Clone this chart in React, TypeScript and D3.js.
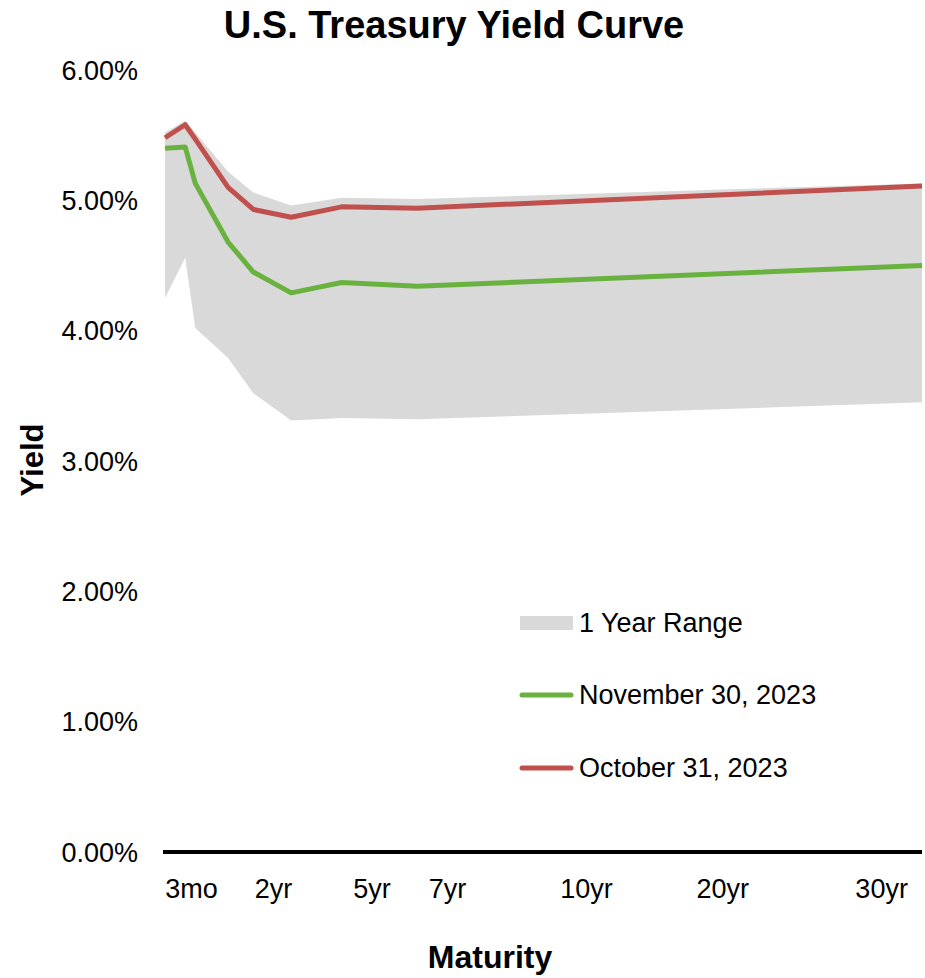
import React from "react";
import * as d3 from "d3";

// Maturity positions along the chart's x axis (axis units, 0..30)
const xPositions = [0, 0.8, 1.2, 2.5, 3.5, 5, 7, 10, 30];
// Yields in percent
const oct31 = [5.48, 5.58, 5.47, 5.1, 4.93, 4.87, 4.95, 4.94, 5.11];
const nov30 = [5.4, 5.41, 5.13, 4.68, 4.45, 4.29, 4.37, 4.34, 4.5];
const rangeHigh = [5.52, 5.61, 5.52, 5.22, 5.06, 4.96, 5.02, 5.01, 5.13];
const rangeLow = [4.25, 4.56, 4.02, 3.79, 3.52, 3.31, 3.33, 3.32, 3.45];

const xTickLabels = ["3mo", "2yr", "5yr", "7yr", "10yr", "20yr", "30yr"];
const xTickPositions = [1.05, 4.3, 8.2, 11.2, 16.7, 22.1, 28.4];
const yTicks = [0, 1, 2, 3, 4, 5, 6];

const legendItems = ["1 Year Range", "November 30, 2023", "October 31, 2023"];

const W = 925;
const H = 978;
const FONT = "Arial, 'Liberation Sans', Helvetica, sans-serif";
const RED = "#C0504D";
const GREEN = "#6AB23F";
const BAND = "#D9D9D9";

export default function App() {
  const x = d3.scaleLinear().domain([0, 30]).range([165, 922]);
  const y = d3.scaleLinear().domain([0, 6]).range([852, 70]);

  const idx = xPositions.map((_, i) => i);
  const area = d3
    .area<number>()
    .x((i) => x(xPositions[i]))
    .y0((i) => y(rangeLow[i]))
    .y1((i) => y(rangeHigh[i]));
  const lineOf = (vals: number[]) =>
    d3
      .line<number>()
      .x((i) => x(xPositions[i]))
      .y((i) => y(vals[i]))(idx) || "";

  const legendY = [623, 695, 768];

  return (
    <svg
      width={W}
      height={H}
      style={{ position: "absolute", left: 0, top: 0, background: "#fff" }}
      fontFamily={FONT}
    >
      <rect width={W} height={H} fill="#fff" />
      <text x={454} y={38} textAnchor="middle" fontWeight="bold" fontSize={38} fill="#000">
        U.S. Treasury Yield Curve
      </text>

      {/* band */}
      <path d={area(idx) || ""} fill={BAND} />

      {/* lines */}
      <path d={lineOf(nov30)} fill="none" stroke={GREEN} strokeWidth={5} strokeLinejoin="round" />
      <path d={lineOf(oct31)} fill="none" stroke={RED} strokeWidth={5} strokeLinejoin="round" />

      {/* axis line */}
      <line x1={163} x2={922} y1={y(0)} y2={y(0)} stroke="#000" strokeWidth={4} />

      {/* y tick labels */}
      {yTicks.map((t) => (
        <text key={t} x={138} y={y(t)} dy="0.36em" textAnchor="end" fontSize={27} fill="#000">
          {t.toFixed(2) + "%"}
        </text>
      ))}

      {/* x tick labels */}
      {xTickLabels.map((l, i) => (
        <text key={l} x={x(xTickPositions[i])} y={898} textAnchor="middle" fontSize={27} fill="#000">
          {l}
        </text>
      ))}

      <text x={490} y={968} textAnchor="middle" fontWeight="bold" fontSize={32} fill="#000">
        Maturity
      </text>
      <text
        transform="translate(43,460) rotate(-90)"
        textAnchor="middle"
        fontWeight="bold"
        fontSize={31}
        fill="#000"
      >
        Yield
      </text>

      {/* legend */}
      <rect x={520} y={legendY[0] - 7} width={53} height={14} fill={BAND} />
      <line x1={522} x2={571} y1={legendY[1]} y2={legendY[1]} stroke={GREEN} strokeWidth={5} strokeLinecap="round" />
      <line x1={522} x2={571} y1={legendY[2]} y2={legendY[2]} stroke={RED} strokeWidth={5} strokeLinecap="round" />
      {legendItems.map((l, i) => (
        <text key={l} x={579} y={legendY[i] + 9} fontSize={27} fill="#000">
          {l}
        </text>
      ))}
    </svg>
  );
}
